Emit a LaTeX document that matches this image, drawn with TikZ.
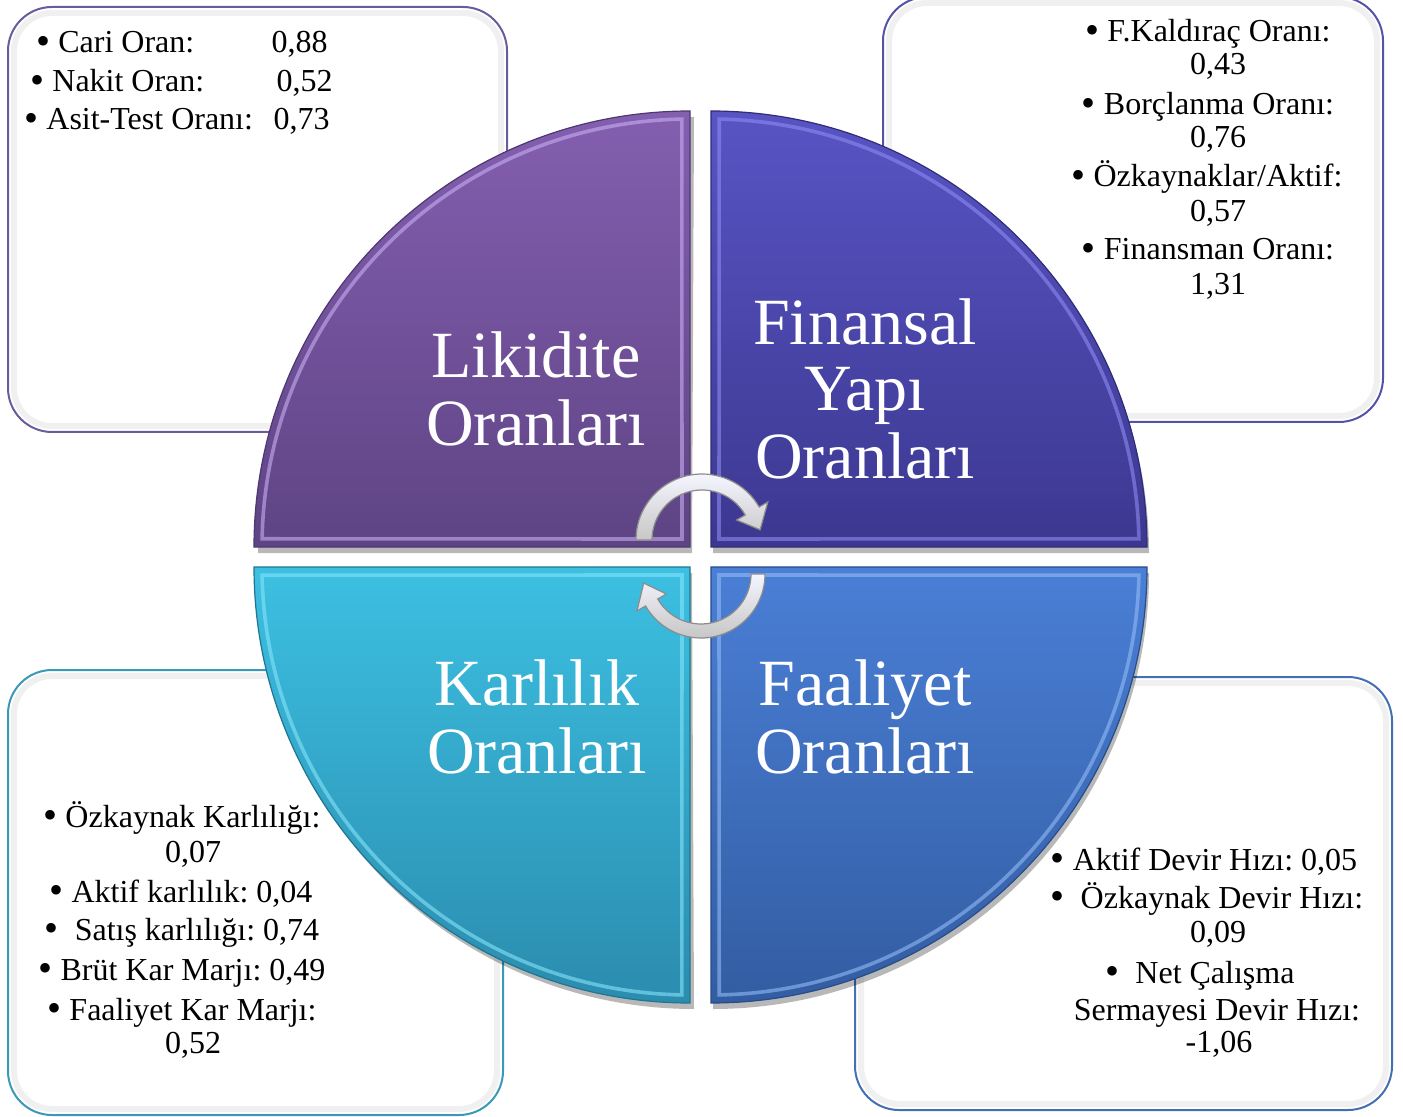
\documentclass[tikz,border=0pt]{standalone}
\usepackage{fontspec}
\setmainfont{Liberation Serif}
\frenchspacing
\newcommand{\bul}{\raisebox{-0.8pt}{\fontsize{20}{18}\selectfont •}}
\definecolor{likTop}{HTML}{845FB0}
\definecolor{likBot}{HTML}{5E4484}
\definecolor{likHi}{HTML}{C7AEF2}
\definecolor{likEdge}{HTML}{4E3872}
\definecolor{finTop}{HTML}{5854C4}
\definecolor{finBot}{HTML}{3C3890}
\definecolor{finHi}{HTML}{8E8AF2}
\definecolor{finEdge}{HTML}{2F2C78}
\definecolor{karTop}{HTML}{3CC0E2}
\definecolor{karBot}{HTML}{2B8CAE}
\definecolor{karHi}{HTML}{86E4FA}
\definecolor{karEdge}{HTML}{207590}
\definecolor{faaTop}{HTML}{4A7FD6}
\definecolor{faaBot}{HTML}{335DA2}
\definecolor{faaHi}{HTML}{92BAF6}
\definecolor{faaEdge}{HTML}{274C88}
\definecolor{boxLik}{HTML}{6B5A9C}
\definecolor{boxFin}{HTML}{5553A6}
\definecolor{boxKar}{HTML}{3A98B8}
\definecolor{boxFaa}{HTML}{4270B2}
\begin{document}
\begin{tikzpicture}[x=0.5pt,y=-0.5pt,
  infobox/.style={draw=#1, line width=1pt, fill=white, rounded corners=22pt},
  innerglow/.style={draw=black!6, line width=3pt, rounded corners=19pt},
  small/.style={font=\fontsize{16}{18}\selectfont, text=black, inner sep=0pt, anchor=base},
  big/.style={font=\fontsize{33}{36}\selectfont, text=white, inner sep=0pt, anchor=base},
  qshadow/.style={fill=black, opacity=0.28},
  hiline/.style={draw=#1, line width=1.8pt, opacity=0.6},
  cyclearrow/.style={top color=white!96!blue, bottom color=black!22!white, draw=black!45, line width=0.6pt}
]
\useasboundingbox (0,0) rectangle (1403,1117);

% ---------- info boxes ----------
\draw[infobox=boxLik] (8,7) rectangle (507,432);
\draw[innerglow] (14,13) rectangle (501,426);
\draw[infobox=boxFin] (883,-3) rectangle (1383,422);
\draw[innerglow] (889,3) rectangle (1377,416);
\draw[infobox=boxKar] (8,670) rectangle (503,1115);
\draw[innerglow] (14,676) rectangle (497,1109);
\draw[infobox=boxFaa] (855,677) rectangle (1392,1110);
\draw[innerglow] (861,683) rectangle (1386,1104);

% ---------- shadows of quadrants ----------
\fill[qshadow] (692,553) -- (258,553) arc[start angle=180,end angle=270,radius=436] -- cycle;
\fill[qshadow] (713,553) -- (713,117) arc[start angle=270,end angle=360,radius=436] -- cycle;
\fill[qshadow] (692,573) -- (258,573) arc[start angle=180,end angle=90,radius=436] -- cycle;
\fill[qshadow] (713,573) -- (1149,573) arc[start angle=0,end angle=90,radius=436] -- cycle;

% ---------- quadrants ----------
% Likidite (top left)
\shade[top color=likTop, bottom color=likBot, draw=likEdge, line width=0.6pt]
  (690,547) -- (254,547) arc[start angle=180,end angle=270,radius=436] -- cycle;
\draw[hiline=likHi] (682,539) -- ([shift={(690,547)}]181.1:428) arc[start angle=181.1,end angle=268.9,radius=428] -- cycle;
% Finansal (top right)
\shade[top color=finTop, bottom color=finBot, draw=finEdge, line width=0.6pt]
  (711,547) -- (711,111) arc[start angle=270,end angle=360,radius=436] -- cycle;
\draw[hiline=finHi] (719,539) -- ([shift={(711,547)}]271.1:428) arc[start angle=271.1,end angle=358.9,radius=428] -- cycle;
% Karlilik (bottom left)
\shade[top color=karTop, bottom color=karBot, draw=karEdge, line width=0.6pt]
  (690,567) -- (254,567) arc[start angle=180,end angle=90,radius=436] -- cycle;
\draw[hiline=karHi] (682,575) -- ([shift={(690,567)}]178.9:428) arc[start angle=178.9,end angle=91.1,radius=428] -- cycle;
% Faaliyet (bottom right)
\shade[top color=faaTop, bottom color=faaBot, draw=faaEdge, line width=0.6pt]
  (711,567) -- (1147,567) arc[start angle=0,end angle=90,radius=436] -- cycle;
\draw[hiline=faaHi] (719,575) -- ([shift={(711,567)}]1.1:428) arc[start angle=1.1,end angle=88.9,radius=428] -- cycle;

% ---------- quadrant labels ----------
\node[big] (lik1) at (536,378) {Likidite};
\node[big] (lik2) at (536,445) {Oranları};
\node[big] (fin1) at (865,345) {Finansal};
\node[big] (fin2) at (865,411) {Yapı};
\node[big] (fin3) at (865,479) {Oranları};
\node[big] (kar1) at (537,705) {Karlılık};
\node[big] (kar2) at (537,773) {Oranları};
\node[big] (faa1) at (865,705) {Faaliyet};
\node[big] (faa2) at (865,773) {Oranları};

% ---------- cycle arrows ----------
\begin{scope}[shift={(702,540)}]
  \path[cyclearrow] (180:66) arc[start angle=180,end angle=330,radius=66]
    -- (330:76) -- (350:59) -- (330:40) -- (330:50)
    arc[start angle=330,end angle=180,radius=50] -- cycle;
\end{scope}
\begin{scope}[shift={(701,574)}]
  \path[cyclearrow] (0:64) arc[start angle=0,end angle=150,radius=64]
    -- (150:74) -- (171:58) -- (150:40) -- (150:50)
    arc[start angle=150,end angle=0,radius=50] -- cycle;
\end{scope}

% ---------- Likidite box text ----------
\node[small, anchor=base west] (l1a) at (36,53) {\bul\ Cari Oran:};
\node[small, anchor=base east] (l1b) at (328,53) {0,88};
\node[small, anchor=base west] (l2a) at (30,92) {\bul\ Nakit Oran:};
\node[small, anchor=base east] (l2b) at (333,92) {0,52};
\node[small, anchor=base west] (l3a) at (24,130) {\bul\ Asit-Test Oranı:};
\node[small, anchor=base east] (l3b) at (330,130) {0,73};

% ---------- Finansal box text ----------
\node[small] (f1) at (1208,42) {\bul\ F.Kaldıraç Oranı:};
\node[small] (f2) at (1218,75) {0,43};
\node[small] (f3) at (1208,115) {\bul\ Borçlanma Oranı:};
\node[small] (f4) at (1218,148) {0,76};
\node[small] (f5) at (1207,187) {\bul\ Özkaynaklar/Aktif:};
\node[small] (f6) at (1218,222) {0,57};
\node[small] (f7) at (1208,260) {\bul\ Finansman Oranı:};
\node[small] (f8) at (1218,295) {1,31};

% ---------- Karlilik box text ----------
\node[small] (k1) at (182,827) {\bul\ Özkaynak Karlılığı:};
\node[small] (k2) at (193,862) {0,07};
\node[small] (k3) at (181,902) {\bul\ Aktif karlılık: 0,04};
\node[small] (k4) at (182,940) {\bul\ \ Satış karlılığı: 0,74};
\node[small] (k5) at (182,980) {\bul\ Brüt Kar Marjı: 0,49};
\node[small] (k6) at (182,1020) {\bul\ Faaliyet Kar Marjı:};
\node[small] (k7) at (193,1053) {0,52};

% ---------- Faaliyet box text ----------
\node[small] (a1) at (1204,870) {\bul\ Aktif Devir Hızı: 0,05};
\node[small] (a2) at (1207,908) {\bul\ \ Özkaynak Devir Hızı:};
\node[small] (a3) at (1218,942) {0,09};
\node[small] (a4) at (1200,983) {\bul\ \ Net Çalışma};
\node[small] (a5) at (1217,1020) {Sermayesi Devir Hızı:};
\node[small] (a6) at (1219,1052) {-1,06};
\end{tikzpicture}
\end{document}
